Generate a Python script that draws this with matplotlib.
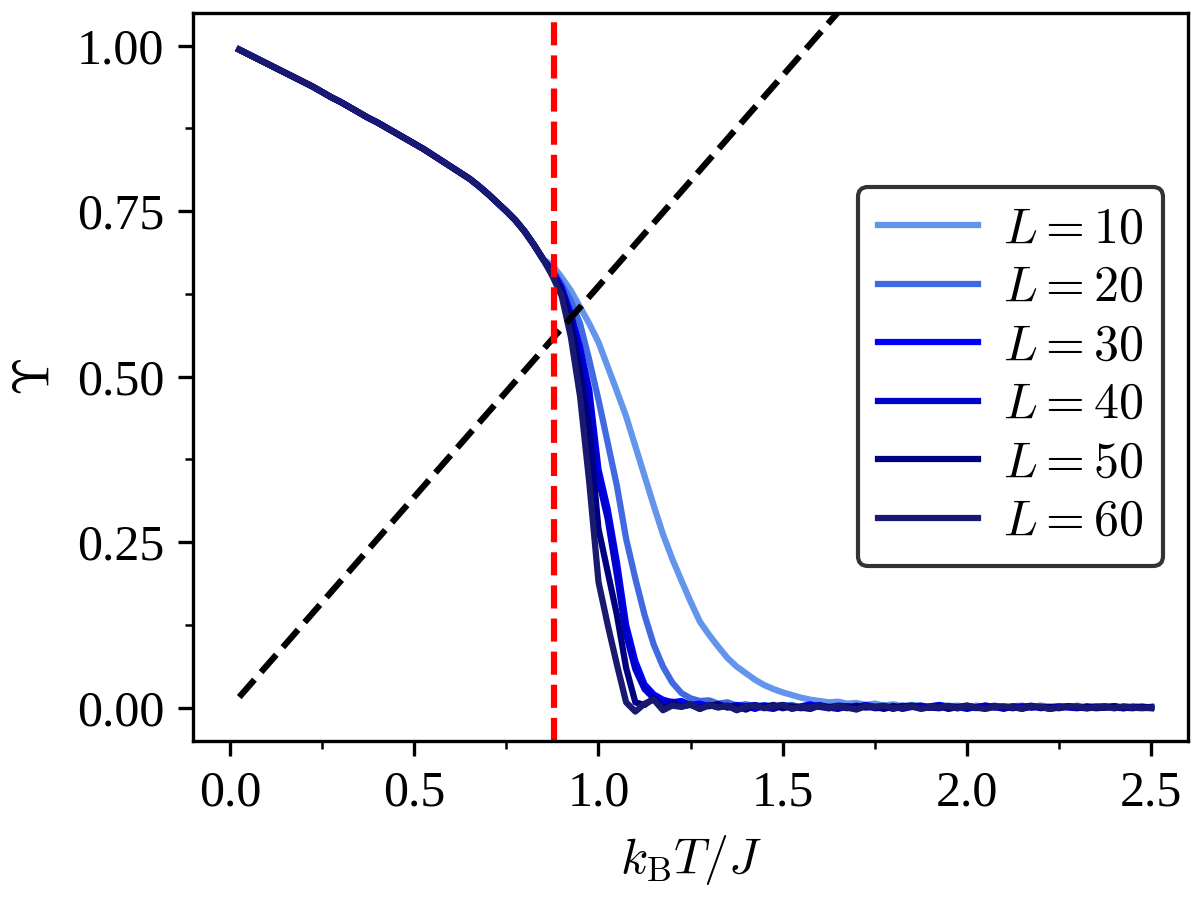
import numpy as np
import matplotlib
matplotlib.use("Agg")
from matplotlib import pyplot as plt
from matplotlib.ticker import MultipleLocator, AutoMinorLocator

plt.rcParams["font.family"] = "serif"
plt.rcParams["font.serif"] = ["Liberation Serif", "DejaVu Serif"]
plt.rcParams["mathtext.fontset"] = "cm"
plt.rcParams["font.size"] = 12

# temperature grid, k_B T / J
T_low = np.arange(1, 35) * 0.025          # 0.025 ... 0.85 (all sizes agree)
T_high = 0.875 + np.arange(66) * 0.025    # 0.875 ... 2.5

ups_low = [0.994, 0.987, 0.980, 0.973, 0.966, 0.959, 0.952, 0.945, 0.938, 0.930,
           0.922, 0.915, 0.907, 0.899, 0.891, 0.884, 0.876, 0.868, 0.860, 0.852,
           0.844, 0.835, 0.826, 0.817, 0.808, 0.799, 0.788, 0.776, 0.763, 0.750,
           0.736, 0.719, 0.699, 0.677]

ups_L10 = [0.668, 0.650, 0.630, 0.605, 0.580, 0.552, 0.515, 0.478, 0.440, 0.395,
           0.350, 0.305, 0.262, 0.225, 0.192, 0.160, 0.130, 0.110, 0.092, 0.075,
           0.062, 0.052, 0.042, 0.034, 0.028, 0.023, 0.019, 0.015, 0.012, 0.010,
           0.008, 0.009, 0.006, 0.007, 0.004, 0.006, 0.003, 0.005, 0.002, 0.004,
           0.003, 0.001, 0.004, 0.002, 0.003, 0.000, 0.003, 0.001, 0.002, 0.000,
           0.002, 0.003, 0.000, 0.002, -0.001, 0.002, 0.001, 0.003, 0.000, 0.001,
           0.002, -0.001, 0.001, 0.002, 0.000, 0.001]

ups_L20 = [0.662, 0.640, 0.615, 0.580, 0.525, 0.465, 0.400, 0.335, 0.255, 0.195,
           0.140, 0.095, 0.062, 0.038, 0.022, 0.014, 0.010, 0.011, 0.006, 0.008,
           0.003, 0.005, 0.002, 0.004, 0.001, 0.003, 0.004, 0.000, 0.002, 0.003,
           0.001, 0.003, 0.000, 0.002, 0.004, 0.001, 0.002, -0.001, 0.002, 0.003,
           0.000, 0.002, 0.001, 0.003, 0.000, 0.002, -0.001, 0.001, 0.003, 0.001,
           0.002, 0.000, 0.001, 0.003, 0.001, 0.000, 0.002, 0.001, -0.001, 0.002,
           0.001, 0.002, 0.000, 0.001, 0.002, 0.000]

ups_L30 = [0.660, 0.635, 0.595, 0.545, 0.480, 0.360, 0.300, 0.220, 0.125, 0.070,
           0.035, 0.020, 0.012, 0.008, 0.010, 0.004, 0.006, 0.002, 0.005, 0.001,
           0.004, 0.002, -0.002, 0.003, 0.001, 0.004, 0.000, 0.002, 0.005, 0.001,
           -0.001, 0.003, 0.002, 0.000, 0.004, 0.001, 0.002, -0.002, 0.003, 0.001,
           0.000, 0.002, 0.004, 0.001, -0.001, 0.002, 0.000, 0.003, 0.001, -0.002,
           0.002, 0.001, 0.003, -0.001, 0.001, 0.002, 0.000, -0.001, 0.002, 0.001,
           0.000, 0.002, -0.001, 0.001, 0.000, -0.001]

ups_L40 = [0.658, 0.632, 0.590, 0.535, 0.465, 0.345, 0.285, 0.200, 0.110, 0.058,
           0.028, 0.014, 0.006, 0.009, 0.002, 0.005, -0.002, 0.004, 0.001, 0.003,
           -0.003, 0.002, 0.004, 0.000, -0.002, 0.003, 0.001, -0.001, 0.002, 0.004,
           0.000, -0.002, 0.002, 0.001, 0.003, -0.001, 0.000, 0.002, -0.002, 0.001,
           0.003, 0.000, -0.001, 0.002, 0.001, -0.002, 0.001, 0.003, 0.000, 0.001,
           -0.001, 0.002, 0.000, 0.001, -0.002, 0.001, 0.002, 0.000, -0.001, 0.001,
           0.002, 0.000, -0.001, 0.001, 0.000, 0.001]

ups_L50 = [0.655, 0.628, 0.580, 0.510, 0.420, 0.270, 0.205, 0.140, 0.060, 0.008,
           0.004, 0.014, -0.002, 0.006, 0.002, 0.004, -0.001, 0.003, 0.005, 0.000,
           0.002, -0.003, 0.003, 0.001, 0.004, -0.001, 0.002, 0.000, -0.002, 0.003,
           0.001, 0.002, -0.001, 0.003, 0.000, 0.001, -0.002, 0.002, 0.001, 0.003,
           -0.001, 0.000, 0.002, -0.002, 0.001, 0.003, 0.000, -0.001, 0.002, 0.000,
           0.001, -0.002, 0.002, 0.000, 0.001, -0.001, 0.002, 0.000, 0.001, -0.001,
           0.000, 0.002, 0.000, -0.001, 0.001, 0.000]

ups_L60 = [0.652, 0.622, 0.560, 0.470, 0.340, 0.190, 0.125, 0.065, 0.008, -0.006,
           0.006, 0.012, -0.004, 0.003, 0.001, 0.005, -0.002, 0.004, 0.000, 0.003,
           -0.004, 0.001, 0.003, -0.001, 0.002, 0.004, -0.002, 0.001, 0.000, 0.003,
           -0.001, 0.002, 0.000, -0.003, 0.002, 0.001, 0.003, -0.001, 0.000, 0.002,
           -0.002, 0.001, 0.000, 0.002, -0.001, 0.003, 0.000, -0.002, 0.001, 0.002,
           0.000, -0.001, 0.002, 0.001, -0.002, 0.000, 0.001, 0.002, -0.001, 0.000,
           0.001, -0.001, 0.002, 0.000, -0.001, 0.000]

sizes = [10, 20, 30, 40, 50, 60]
curves = [ups_L10, ups_L20, ups_L30, ups_L40, ups_L50, ups_L60]
colors = ["cornflowerblue", "royalblue", "blue", "mediumblue", "navy", "midnightblue"]

T_bkt = 0.88
T_line = np.concatenate([T_low, T_high])

fig = plt.figure(figsize=(4, 3), dpi=300)
ax = fig.add_axes([0.161, 0.177, 0.829, 0.809])

for L, ups, c in zip(sizes, curves, colors):
    T = np.concatenate([T_low, T_high])
    y = np.concatenate([ups_low, ups])
    ax.plot(T, y, color=c, lw=1.5, label=rf"$L = {L}$")

ax.plot(T_line, 2 * T_line / np.pi, "k--", lw=1.5)
ax.axvline(T_bkt, color="red", ls="--", lw=1.5)

ax.set_xlim(-0.1, 2.6)
ax.set_ylim(-0.05, 1.05)
ax.xaxis.set_major_locator(MultipleLocator(0.5))
ax.yaxis.set_major_locator(MultipleLocator(0.25))
ax.xaxis.set_minor_locator(AutoMinorLocator(2))
ax.yaxis.set_minor_locator(AutoMinorLocator(2))

ax.set_xlabel(r"$k_\mathrm{B}T/J$")
ax.set_ylabel(r"$\Upsilon$")
ax.legend(loc="center right", edgecolor="black", labelspacing=0.24,
          handletextpad=0.5)

fig.savefig("out.png", dpi=300)
